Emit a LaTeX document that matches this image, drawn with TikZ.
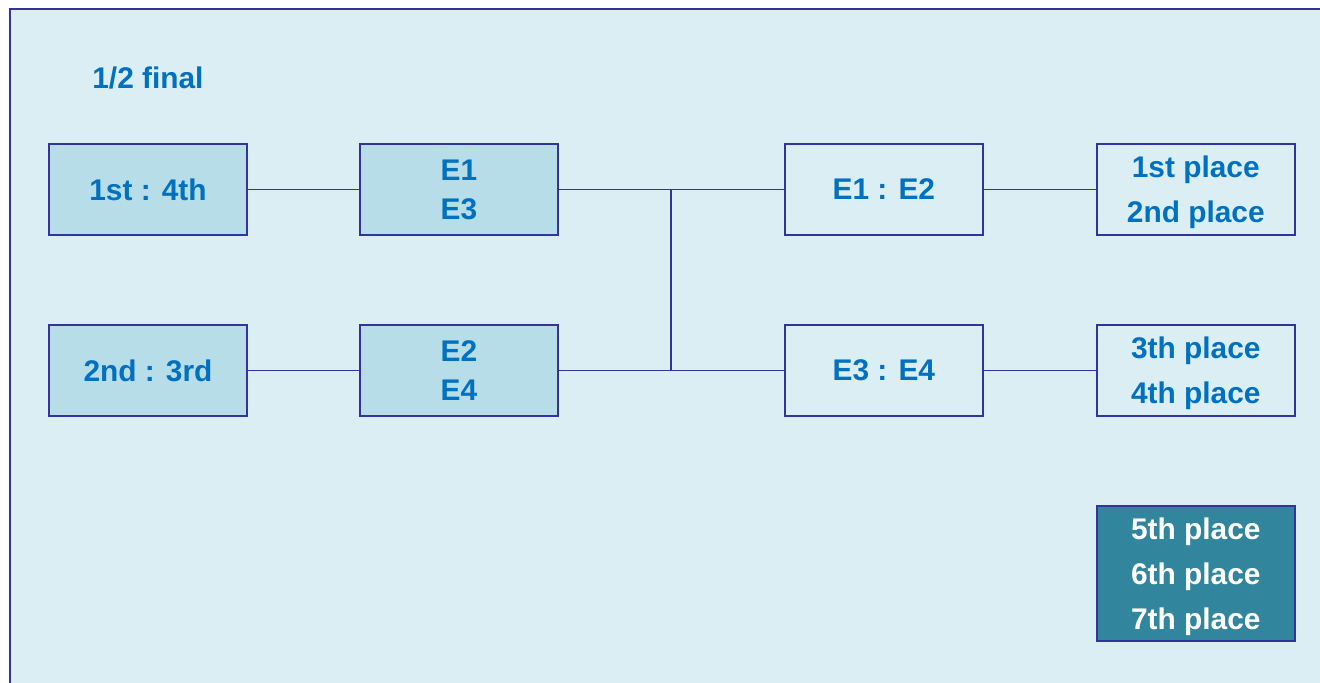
\documentclass[tikz,border=0pt]{standalone}
\usepackage{fontspec}
\setmainfont{Liberation Sans}
\usetikzlibrary{positioning, calc}
\definecolor{pagebg}{HTML}{DBEEF4}
\definecolor{cellfill}{HTML}{B7DDE8}
\definecolor{rule}{HTML}{333399}
\definecolor{label}{HTML}{0070C0}
\definecolor{darkcell}{HTML}{31859C}

\begin{document}
\begin{tikzpicture}[x=0.02cm, y=-0.02cm,
    cell/.style={draw=rule, line width=0.9pt, minimum width=3.96cm, minimum height=1.82cm,
        inner sep=0pt, outer sep=0pt, text depth=0pt, align=center, text=label,
        font=\bfseries\fontsize{17}{25.5}\selectfont},
    team/.style={cell, fill=cellfill},
    pair/.style={team, font=\bfseries\fontsize{17}{22}\selectfont},
    game/.style={cell},
    rest/.style={cell, fill=darkcell, text=white, minimum height=2.7cm},
    link/.style={draw=rule, line width=1.1pt}]
    \useasboundingbox (0,0) rectangle (1320,683);
    \clip (0,0) rectangle (1320,683);
    \draw[rule, line width=1.2pt, fill=pagebg] (10,9) rectangle (1340,700);
    \node[anchor=west, text=label, font=\bfseries\fontsize{17}{20}\selectfont, inner sep=0pt] (title) at (92,78) {1/2 final};
    % first column
    \node[team] (s14) at (148,189.5) {1st : 4th};
    \node[team] (s23) [below=1.8cm of s14] {2nd : 3rd};
    % second column
    \node[pair] (e13) [right=2.26cm of s14] {E1\\E3};
    \node[pair] (e24) [right=2.26cm of s23] {E2\\E4};
    % matches
    \node[game] (m12) [right=4.54cm of e13] {E1 : E2};
    \node[game] (m34) [right=4.54cm of e24] {E3 : E4};
    % places
    \node[game] (p12) [right=2.28cm of m12] {1st place\\2nd place};
    \node[game] (p34) [right=2.28cm of m34] {3th place\\4th place};
    \node[rest] (p57) [below=1.8cm of p34] {5th place\\6th place\\7th place};
    \draw[link] (s14) -- (e13);
    \draw[link] (s23) -- (e24);
    \draw[link] (e13) -- (m12);
    \draw[link] (e24) -- (m34);
    \coordinate (fork) at ($(e13.east)!0.5!(m12.west)$);
    \draw[link] (fork) -- (fork |- e24.east);
    \draw[link] (m12) -- (p12);
    \draw[link] (m34) -- (p34);
\end{tikzpicture}
\end{document}
